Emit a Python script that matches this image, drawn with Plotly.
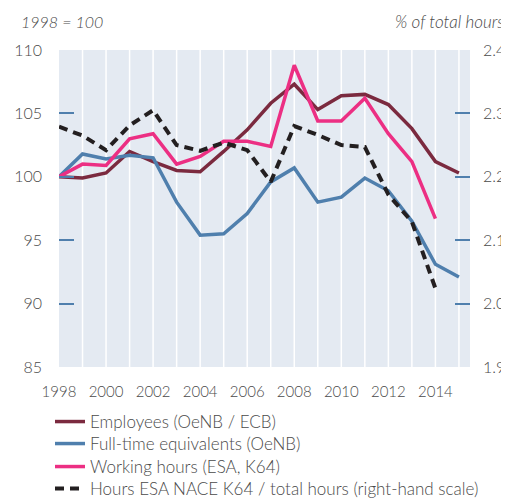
import plotly.graph_objects as go

years = list(range(1998, 2016))
employees = [100.0, 99.9, 100.3, 102.0, 101.2, 100.5, 100.4, 102.0, 103.7, 105.8,
             107.3, 105.3, 106.4, 106.5, 105.7, 103.8, 101.2, 100.3]
fte = [100.0, 101.8, 101.4, 101.7, 101.5, 98.0, 95.4, 95.5, 97.1, 99.6,
       100.7, 98.0, 98.4, 99.9, 98.9, 96.5, 93.1, 92.1]
hours_years = list(range(1998, 2015))
working_hours = [100.0, 101.0, 100.9, 103.0, 103.4, 101.0, 101.6, 102.8, 102.8, 102.4,
                 108.8, 104.4, 104.4, 106.2, 103.4, 101.2, 96.7]
share_hours = [2.279, 2.265, 2.242, 2.281, 2.305, 2.250, 2.241, 2.254, 2.242, 2.192,
               2.280, 2.266, 2.250, 2.247, 2.172, 2.129, 2.024]

left_ticks = [85, 90, 95, 100, 105, 110]
right_ticks = [1.9, 2.0, 2.1, 2.2, 2.3, 2.4]
right_labels = ["1.9", "2.0", "2.1", "2.2", "2.3", "2.4"]
x_ticks = list(range(1998, 2015, 2))

FONT = "Lato"
TXT = "#4a4a4a"
TICK = "#4f7fad"

fig = go.Figure()
fig.add_trace(go.Scatter(x=years, y=employees, mode="lines", name="Employees (OeNB / ECB)",
                         legend="legend", line=dict(color="#7b2a3f", width=3.5)))
fig.add_trace(go.Scatter(x=years, y=fte, mode="lines", name="Full-time equivalents (OeNB)",
                         legend="legend2", line=dict(color="#4f7fad", width=3.5)))
fig.add_trace(go.Scatter(x=hours_years, y=working_hours, mode="lines", name="Working hours (ESA, K64)",
                         legend="legend3", line=dict(color="#ec2f83", width=3.5)))
fig.add_trace(go.Scatter(x=hours_years, y=share_hours, mode="lines", yaxis="y2",
                         name="Hours ESA NACE K64 / total hours (right-hand scale)",
                         legend="legend4",
                         line=dict(color="#231f20", width=4, dash="9px,6px")))


def legend_at(row_y):
    return dict(xref="container", yref="container", x=42 / 509, y=1 - row_y / 499,
                xanchor="left", yanchor="middle", bgcolor="rgba(0,0,0,0)",
                font=dict(size=17, color=TXT, weight=300))


fig.update_layout(
    width=509, height=499,
    margin=dict(l=51, r=47, t=42, b=140, autoexpand=False),
    paper_bgcolor="white",
    plot_bgcolor="#e4eaf2",
    font=dict(family=FONT, size=15, color=TXT, weight=300),
    showlegend=True,
    legend=legend_at(414),
    legend2=legend_at(436),
    legend3=legend_at(459),
    legend4=legend_at(481),
    xaxis=dict(range=[1998, 2015.47], tickvals=x_ticks, ticktext=[str(v) for v in x_ticks],
               showgrid=False, zeroline=False, showline=False, ticks="",
               automargin=False, ticklabelstandoff=14,
               tickfont=dict(size=15, color=TXT, weight=300)),
    yaxis=dict(range=[85, 110], tickvals=left_ticks, showgrid=False, zeroline=False,
               ticks="inside", ticklen=15, tickcolor=TICK, tickwidth=1.5,
               automargin=False, ticklabelstandoff=16,
               showline=False, tickfont=dict(size=16, color=TXT, weight=300)),
    yaxis2=dict(range=[1.9, 2.4], tickvals=right_ticks, ticktext=right_labels,
                overlaying="y", side="right", showgrid=False, zeroline=False,
                ticks="inside", ticklen=15, tickcolor=TICK, tickwidth=1.5,
                automargin=False, ticklabelstandoff=12,
                showline=False, tickfont=dict(size=16, color=TXT, weight=300)),
)

# vertical white year grid lines
for yr in range(1999, 2016):
    fig.add_shape(type="line", xref="x", yref="paper", x0=yr, x1=yr, y0=0, y1=1,
                  line=dict(color="white", width=1.5), layer="below")

fig.add_annotation(text="<i>1998 = 100</i>", xref="paper", yref="paper", x=-0.098, y=1.091,
                   xanchor="left", yanchor="middle", showarrow=False,
                   font=dict(size=16, color=TXT, weight=300))
fig.add_annotation(text="<i>% of total hours</i>", xref="paper", yref="paper", x=1.088, y=1.091,
                   xanchor="right", yanchor="middle", showarrow=False,
                   font=dict(size=17, color=TXT, weight=300))

fig.write_html("out.html")
